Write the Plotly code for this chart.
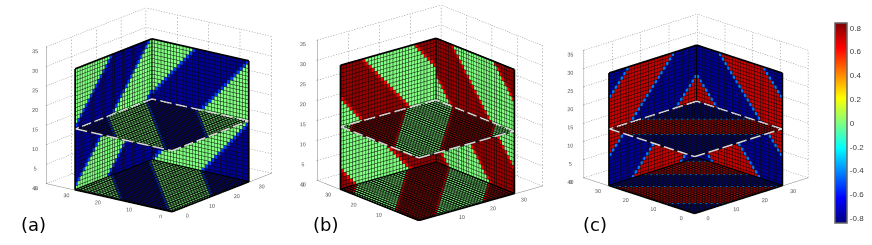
import re
import numpy as np
import plotly.graph_objects as go

# ---------- cell values, read row by row (run-length: letter + number of cells) ----------
A_LEFT = """G13T1B17 T1G13T1B16 B1T1G13T1B15 B2T1G13T1B14 B3T1G13T1B13 B4T1G13T1B12 B5T1G13T1B11 B6T1G13T1B10
B7T1G13T1B9 B8T1G13T1B8 B9T1G13T1B7 B10T1G13T1B6 B11T1G13T1B5 B12T1G13T1B4 B13T1G13T1B3 B14T1G13T1B2
T1B14T1G13T1B1 G1T1B14T1G13T1 G2T1B14T1G13 G3T1B14T1G12 G4T1B14T1G11 G5T1B14T1G10 G6T1B14T1G9 G7T1B14T1G8
G8T1B14T1G7 G9T1B14T1G6 G10T1B14T1G5 G11T1B14T1G4 G12T1B14T1G3 G13T1B14T1G2 G14T1B14T1G1""".split()
A_RIGHT = """B14T1G15T1 B13T1G15T1B1 B12T1G15T1B2 B11T1G15T1B3 B10T1G15T1B4 B9T1G15T1B5 B8T1G15T1B6 B7T1G15T1B7
B6T1G15T1B8 B5T1G15T1B9 B4T1G15T1B10 B3T1G15T1B11 B2T1G15T1B12 B1T1G15T1B13 T1G15T1B14 G15T1B15 G14T1B16
G13T1B16T1 G12T1B16T1G1 G11T1B16T1G2 G10T1B16T1G3 G9T1B16T1G4 G8T1B16T1G5 G7T1B16T1G6 G6T1B16T1G7
G5T1B16T1G8 G4T1B16T1G9 G3T1B16T1G10 G2T1B16T1G11 G1T1B16T1G12 T1B16T1G13""".split()
A_FLOOR = """G16T1B14 T1G16T1B13 B1T1G16T1B12 B2T1G16T1B11 B3T1G16T1B10 B4T1G16T1B9 B5T1G16T1B8 B6T1G16T1B7
B7T1G16T1B6 B8T1G16T1B5 B9T1G16T1B4 B10T1G16T1B3 B11T1G16T1B2 B12T1G16T1B1 B13T1G16T1 B14T1G16 T1B14T1G15
G1T1B14T1G14 G2T1B14T1G13 G3T1B14T1G12 G4T1B14T1G11 G5T1B14T1G10 G6T1B14T1G9 G7T1B14T1G8 G8T1B14T1G7
G9T1B14T1G6 G10T1B14T1G5 G11T1B14T1G4 G12T1B14T1G3 G13T1B14T1G2 G14T1B14T1G1""".split()
A_MID = """B14T1G16 B15T1G15 T1B15T1G14 G1T1B15T1G13 G2T1B15T1G12 G3T1B15T1G11 G4T1B15T1G10 G5T1B15T1G9 G6T1B15T1G8
G7T1B15T1G7 G8T1B15T1G6 G9T1B15T1G5 G10T1B15T1G4 G11T1B15T1G3 G12T1B15T1G2 G13T1B15T1G1 G14T1B15T1 G15T1B15
T1G15T1B14 B1T1G15T1B13 B2T1G15T1B12 B3T1G15T1B11 B4T1G15T1B10 B5T1G15T1B9 B6T1G15T1B8 B7T1G15T1B7
B8T1G15T1B6 B9T1G15T1B5 B10T1G15T1B4 B11T1G15T1B3 B12T1G15T1B2""".split()

B_LEFT = """R4T1G17T1R8 R3T1G17T1R9 R2T1G17T1R10 R1T1G17T1R11 T1G17T1R12 G17T1R13 G16T1R14 G15T1R14T1 G14T1R14T1G1
G13T1R14T1G2 G12T1R14T1G3 G11T1R14T1G4 G10T1R14T1G5 G9T1R14T1G6 G8T1R14T1G7 G7T1R14T1G8 G6T1R14T1G9
G5T1R14T1G10 G4T1R14T1G11 G3T1R14T1G12 G2T1R14T1G13 G1T1R14T1G14 T1R14T1G15 R14T1G16 R13T1G16T1
R12T1G16T1R1 R11T1G16T1R2 R10T1G16T1R3 R9T1G16T1R4 R8T1G16T1R5 R7T1G16T1R6""".split()
B_RIGHT = """R9T1G16T1R4 R10T1G16T1R3 R11T1G16T1R2 R12T1G16T1R1 R13T1G16T1 R14T1G16 T1R14T1G15 G1T1R14T1G14 G2T1R14T1G13
G3T1R14T1G12 G4T1R14T1G11 G5T1R14T1G10 G6T1R14T1G9 G7T1R14T1G8 G8T1R14T1G7 G9T1R14T1G6 G10T1R14T1G5
G11T1R14T1G4 G12T1R14T1G3 G13T1R14T1G2 G14T1R14T1G1 G15T1R14T1 G16T1R14 T1G16T1R13 R1T1G16T1R12 R2T1G16T1R11
R3T1G16T1R10 R4T1G16T1R9 R5T1G16T1R8 R6T1G16T1R7 R7T1G16T1R6""".split()
B_FLOOR = """R5T1G15T1R9 R6T1G15T1R8 R7T1G15T1R7 R8T1G15T1R6 R9T1G15T1R5 R10T1G15T1R4 R11T1G15T1R3 R12T1G15T1R2
R13T1G15T1R1 T1R13T1G15T1 G1T1R13T1G15 G2T1R13T1G14 G3T1R13T1G13 G4T1R13T1G12 G5T1R13T1G11 G6T1R13T1G10
G7T1R13T1G9 G8T1R13T1G8 G9T1R13T1G7 G10T1R13T1G6 G11T1R13T1G5 G12T1R13T1G4 G13T1R13T1G3 G14T1R13T1G2
G15T1R13T1G1 G16T1R13T1 T1G16T1R13 R1T1G16T1R12 R2T1G16T1R11 R3T1G16T1R10 R4T1G16T1R9""".split()
B_MID = """G7T1R15T1G7 G8T1R15T1G6 G9T1R15T1G5 G10T1R15T1G4 G11T1R15T1G3 G12T1R15T1G2 G13T1R15T1G1 G14T1R15T1 G15T1R15
G16T1R14 T1G16T1R13 R1T1G16T1R12 R2T1G16T1R11 R3T1G16T1R10 R4T1G16T1R9 R5T1G16T1R8 R6T1G16T1R7 R7T1G16T1R6
R8T1G16T1R5 R9T1G16T1R4 R10T1G16T1R3 R11T1G16T1R2 R12T1G16T1R1 R13T1G16T1 R14T1G16 R15T1G15 R16T1G14
T1R16T1G13 G1T1R16T1G12 G2T1R16T1G11 G3T1R16T1G10""".split()

C_LEFT = """B8T1R16T1B5 B9T1R16T1B4 B10T1R16T1B3 B11T1R16T1B2 B12T1R16T1B1 B13T1R16T1 B14T1R16 B15T1R15 T1B15T1R14
R1T1B15T1R13 R2T1B15T1R12 R3T1B15T1R11 R4T1B15T1R10 R5T1B15T1R9 R6T1B15T1R8 R7T1B15T1R7 R8T1B15T1R6 R9T1B15T1R5
R10T1B15T1R4 R11T1B15T1R3 R12T1B15T1R2 R13T1B15T1R1 R14T1B15T1 R15T1B15 T1R15T1B14 B1T1R15T1B13 B2T1R15T1B12
B3T1R15T1B11 B4T1R15T1B10 B5T1R15T1B9 B6T1R15T1B8""".split()
C_RIGHT = """B8T1R16T1B5 B9T1R16T1B4 B10T1R16T1B3 B11T1R16T1B2 B12T1R16T1B1 B13T1R16T1 B14T1R16 B15T1R15 T1B15T1R14
R1T1B15T1R13 R2T1B15T1R12 R3T1B15T1R11 R4T1B15T1R10 R5T1B15T1R9 R6T1B15T1R8 R7T1B15T1R7 R8T1B15T1R6 R9T1B15T1R5
R10T1B15T1R4 R11T1B15T1R3 R12T1B15T1R2 R13T1B15T1R1 R14T1B15T1 R15T1B15 T1R15T1B14 B1T1R15T1B13 B2T1R15T1B12
B3T1R15T1B11 B4T1R15T1B10 B5T1R15T1B9 B6T1R15T1B8""".split()
C_FLOOR = """B10T1R18T1B1 B9T1R18T1B2 B8T1R18T1B3 B7T1R18T1B4 B6T1R18T1B5 B5T1R18T1B6 B4T1R18T1B7 B3T1R18T1B8 B2T1R18T1B9
B1T1R18T1B10 T1R18T1B11 R18T1B12 R17T1B12T1 R16T1B12T1R1 R15T1B12T1R2 R14T1B12T1R3 R13T1B12T1R4 R12T1B12T1R5
R11T1B12T1R6 R10T1B12T1R7 R9T1B12T1R8 R8T1B12T1R9 R7T1B12T1R10 R6T1B12T1R11 R5T1B12T1R12 R4T1B12T1R13
R3T1B12T1R14 R2T1B12T1R14T1 R1T1B12T1R14T1B1 T1B12T1R14T1B2 B12T1R14T1B3""".split()
C_MID = """B24T1R6 B23T1R7 B22T1R8 B21T1R9 B20T1R10 B19T1R11 B18T1R12 B17T1R13 B16T1R14 B15T1R15 B14T1R16 B13T1R16T1
B12T1R16T1B1 B11T1R16T1B2 B10T1R16T1B3 B9T1R16T1B4 B8T1R16T1B5 B7T1R16T1B6 B6T1R16T1B7 B5T1R16T1B8 B4T1R16T1B9
B3T1R16T1B10 B2T1R16T1B11 B1T1R16T1B12 T1R16T1B13 R16T1B14 R15T1B15 R14T1B16 R13T1B17 R12T1B17T1 R11T1B17T1R1""".split()

A_VALUES = {"G": 0.0, "B": -0.8, "T": -0.53}
B_VALUES = {"G": 0.0, "R": 0.8, "T": 0.63}
C_VALUES = {"R": 0.72, "B": -0.8, "T": -0.43}

X_TICKS = [0, 10, 20, 30]
Y_TICKS = [0, 10, 20, 30, 40]
Z_TICKS = [0, 5, 10, 15, 20, 25, 30, 35]
BAR_TICKS = [0.8, 0.6, 0.4, 0.2, 0, -0.2, -0.4, -0.6, -0.8]
BAR_LABELS = ["0.8", "0.6", "0.4", "0.2", "0", "-0.2", "-0.4", "-0.6", "-0.8"]
PANEL_NAMES = ["(a)", "(b)", "(c)"]

JET = [[0, "rgb(0,0,128)"], [0.125, "rgb(0,0,255)"], [0.375, "rgb(0,255,255)"],
       [0.625, "rgb(255,255,0)"], [0.875, "rgb(255,0,0)"], [1, "rgb(128,0,0)"]]


def decode(rows, values):
    out = []
    for row in rows:
        cells = []
        for letter, count in re.findall(r"([A-Z])(\d+)", row):
            cells += [values[letter]] * int(count)
        out.append(cells)
    return np.array(out, dtype=float)


N = 31


def wall(kind, level, grid, scene, eps):
    """kind: 'left' (y=level), 'right' (x=level), 'flat' (z=level)"""
    ax = np.arange(N + 1)
    u, v = np.meshgrid(ax, ax)
    u = u.ravel(); v = v.ravel()
    lv = np.full(u.shape, float(level))
    if kind == "left":
        xs, ys, zs = u, lv, v
    elif kind == "right":
        xs, ys, zs = lv, u, v
    else:
        xs, ys, zs = u, v, lv
    I, J, K, C = [], [], [], []
    for r in range(N):
        for c in range(N):
            a = r * (N + 1) + c
            b = a + 1
            d = a + N + 1
            e = d + 1
            I += [a, a]; J += [b, e]; K += [e, d]
            C += [grid[r][c], grid[r][c]]
    traces = [go.Mesh3d(x=xs, y=ys, z=zs, i=I, j=J, k=K, intensity=C, intensitymode="cell",
                        coloraxis="coloraxis", flatshading=True, hoverinfo="skip", scene=scene,
                        lighting=dict(ambient=1, diffuse=0, specular=0, roughness=1, fresnel=0))]
    lu, lv2 = [], []
    for t in ax.tolist():
        lu += [t, t, None]; lv2 += [0, N, None]
        lu += [0, N, None]; lv2 += [t, t, None]
    lev = [level - eps if p is not None else None for p in lu]
    if kind == "left":
        lx, ly, lz = lu, lev, lv2
    elif kind == "right":
        lx, ly, lz = lev, lu, lv2
    else:
        lev = [level + eps if p is not None else None for p in lu]
        lx, ly, lz = lu, lv2, lev
    traces.append(go.Scatter3d(x=lx, y=ly, z=lz, mode="lines", hoverinfo="skip", showlegend=False, scene=scene,
                               line=dict(color="rgb(10,10,10)", width=1.6 if kind == "flat" else 1)))
    return traces


def broken(a, b, on, period):
    """Split the edge a-b into short pieces, as a dotted or dashed line style."""
    a = np.array(a, dtype=float); b = np.array(b, dtype=float)
    length = np.linalg.norm(b - a)
    xs, ys, zs = [], [], []
    for t in np.arange(0, length, period):
        p = a + (b - a) * t / length
        q = a + (b - a) * min(t + on, length) / length
        xs += [float(p[0]), float(q[0]), None]; ys += [float(p[1]), float(q[1]), None]; zs += [float(p[2]), float(q[2]), None]
    return xs, ys, zs


def guides(scene):
    gx, gy, gz = [], [], []
    def seg(a, b):
        xs, ys, zs = broken(a, b, 0.35, 0.85)
        gx.extend(xs); gy.extend(ys); gz.extend(zs)
    for t in Y_TICKS:
        seg((t, 40, 0), (t, 40, 35)); seg((40, t, 0), (40, t, 35))
        seg((t, 0, 0), (t, 40, 0)); seg((0, t, 0), (40, t, 0))
    for z in Z_TICKS:
        seg((0, 40, z), (40, 40, z)); seg((40, 0, z), (40, 40, z))
    return go.Scatter3d(x=gx, y=gy, z=gz, mode="lines", hoverinfo="skip", showlegend=False, scene=scene,
                        line=dict(color="rgb(125,125,125)", width=1))


def frame(scene):
    fx, fy, fz = [], [], []
    def seg(a, b):
        fx.extend([a[0], b[0], None]); fy.extend([a[1], b[1], None]); fz.extend([a[2], b[2], None])
    e = 0.1
    seg((0, N - e, e), (0, N - e, N)); seg((N - e, N - e, e), (N - e, N - e, N)); seg((N - e, 0, e), (N - e, 0, N))
    seg((0, N - e, N), (N - e, N - e, N)); seg((N - e, N - e, N), (N - e, 0, N))
    seg((0, 0, e), (0, N, e)); seg((0, 0, e), (N, 0, e)); seg((0, N - e, e), (N, N - e, e)); seg((N - e, 0, e), (N - e, N, e))
    return go.Scatter3d(x=fx, y=fy, z=fz, mode="lines", hoverinfo="skip", showlegend=False, scene=scene,
                        line=dict(color="black", width=3.5))


def dashes(scene):
    m = 15.7
    h = N - 0.3
    dx, dy, dz = [], [], []
    for a, b in [((0, 0, m), (h, 0, m)), ((h, 0, m), (h, h, m)), ((h, h, m), (0, h, m)), ((0, h, m), (0, 0, m))]:
        xs, ys, zs = broken(a, b, 3.6, 4.9)
        dx += xs; dy += ys; dz += zs
    return go.Scatter3d(x=dx, y=dy, z=dz, mode="lines", hoverinfo="skip",
                        showlegend=False, scene=scene, line=dict(color="rgb(218,218,218)", width=3))


W, H = 872, 245
fig = go.Figure()
panels = [
    dict(scene="scene", rows=(A_LEFT, A_RIGHT, A_FLOOR, A_MID), vals=A_VALUES, cx=159, cy=110,
         eye=(-11.74, -8.94, 4.61), asp=(1.04, 1, 0.91)),
    dict(scene="scene2", rows=(B_LEFT, B_RIGHT, B_FLOOR, B_MID), vals=B_VALUES, cx=430, cy=113,
         eye=(-9.15, -10.89, 5.07), asp=(1.025, 1, 0.945)),
    dict(scene="scene3", rows=(C_LEFT, C_RIGHT, C_FLOOR, C_MID), vals=C_VALUES, cx=696, cy=114,
         eye=(-10.27, -10.4, 4.97), asp=(1.012, 1, 0.854)),
]
EYE_NORM = 2.0
ZOOM = 1.46
scenes = {}
for p in panels:
    L, Rw, F, M = [decode(r, p["vals"]) for r in p["rows"]]
    s = p["scene"]
    for t in wall("left", N, L, s, 0.08) + wall("right", N, Rw, s, 0.08) + wall("flat", 0, F, s, 0.08) + wall("flat", 15.5, M, s, 0.08):
        fig.add_trace(t)
    fig.add_trace(guides(s)); fig.add_trace(frame(s)); fig.add_trace(dashes(s))
    e = np.array(p["eye"], dtype=float); e = e / np.linalg.norm(e) * EYE_NORM
    hw, hh = 134, 108
    axis = dict(showbackground=False, showgrid=False, zeroline=False, showspikes=False, showline=True,
                linecolor="rgb(130,130,130)", linewidth=1, ticks="outside", ticklen=1, tickcolor="rgb(90,90,90)",
                tickangle=0,
                tickfont=dict(family="Liberation Sans", size=8, color="rgb(80,80,80)"), title=dict(text=""))
    scenes[s] = dict(
        domain=dict(x=[(p["cx"] - hw) / W, (p["cx"] + hw) / W], y=[(H - p["cy"] - hh) / H, (H - p["cy"] + hh) / H]),
        aspectmode="manual", aspectratio=dict(x=p["asp"][0] * ZOOM, y=p["asp"][1] * ZOOM, z=p["asp"][2] * ZOOM),
        camera=dict(eye=dict(x=float(e[0]), y=float(e[1]), z=float(e[2])), center=dict(x=0, y=0, z=0), up=dict(x=0, y=0, z=1),
                    projection=dict(type="orthographic")),
        xaxis=dict(axis, range=[0, 40], tickvals=X_TICKS),
        yaxis=dict(axis, range=[0, 40], tickvals=Y_TICKS),
        zaxis=dict(axis, range=[0, 35], tickvals=Z_TICKS),
    )

anns = [dict(text=t, x=x / W, y=1 - y / H, xref="paper", yref="paper", showarrow=False, xanchor="center",
             yanchor="middle", font=dict(family="DejaVu Sans", size=18, color="black"))
        for t, x, y in zip(PANEL_NAMES, [33, 325, 595], [224, 224, 224])]

fig.update_layout(
    width=W, height=H, margin=dict(l=0, r=0, t=0, b=0), paper_bgcolor="white", showlegend=False,
    annotations=anns, **scenes,
    coloraxis=dict(cmin=-0.84, cmax=0.84, colorscale=JET, colorbar=dict(
        x=835 / W, xanchor="left", xpad=0, ypad=0, y=1 - 123 / H, yanchor="middle", thickness=12, thicknessmode="pixels",
        len=200, lenmode="pixels", outlinecolor="rgb(100,100,100)", outlinewidth=1.5, ticks="",
        tickvals=BAR_TICKS, ticktext=BAR_LABELS, tickfont=dict(family="Liberation Sans", size=8, color="rgb(60,60,60)"))),
)
fig.write_html("out.html", config=dict(displayModeBar=False),
               post_script="document.body.style.margin='0';document.documentElement.style.overflow='hidden';document.body.style.filter='blur(0.4px)';")
